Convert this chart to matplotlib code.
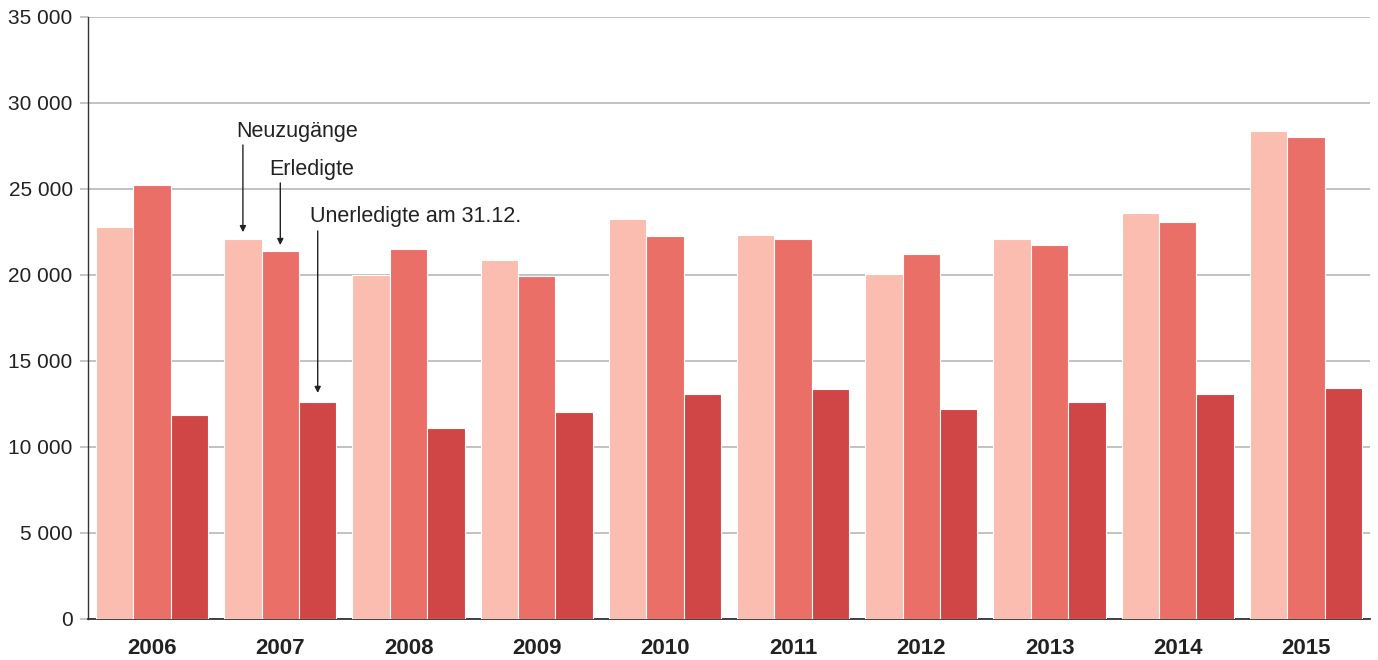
import numpy as np
import matplotlib
matplotlib.use("Agg")
import matplotlib.pyplot as plt
from matplotlib.ticker import FuncFormatter

plt.rcParams["font.family"] = ["Liberation Sans", "DejaVu Sans"]

years = ["2006", "2007", "2008", "2009", "2010", "2011", "2012", "2013", "2014", "2015"]
neuzugaenge = [22800, 22090, 19980, 20870, 23260, 22330, 20040, 22090, 23590, 28390]
erledigte = [25230, 21380, 21490, 19960, 22250, 22070, 21220, 21720, 23080, 28040]
unerledigte = [11860, 12620, 11100, 12020, 13060, 13390, 12210, 12600, 13080, 13430]

LIGHT = "#FABDAF"
MID = "#E96F67"
DARK = "#D04545"
TXT = "#222222"
GRID = "#BDBDBD"
FS = 15.5

fig = plt.figure(figsize=(13.78, 6.6), dpi=100)
ax = fig.add_axes([88 / 1378, 41 / 660, 1282 / 1378, 602 / 660])

x = np.arange(len(years))
w = 0.2917
ax.bar(x - w, neuzugaenge, w, color=LIGHT, edgecolor="white", linewidth=0.8, zorder=3)
ax.bar(x, erledigte, w, color=MID, edgecolor="white", linewidth=0.8, zorder=3)
ax.bar(x + w, unerledigte, w, color=DARK, edgecolor="white", linewidth=0.8, zorder=3)

ax.set_xlim(-0.5, len(years) - 0.5)
ax.set_ylim(0, 35000)
ax.set_yticks(np.arange(0, 35001, 5000))
ax.yaxis.set_major_formatter(FuncFormatter(lambda v, p: f"{int(v):,}".replace(",", " ")))
ax.set_xticks(x)
ax.set_xticklabels(years, fontweight="bold")

ax.grid(axis="y", color=GRID, linewidth=1.3, zorder=0)
ax.set_axisbelow(True)
for s in ["top", "right"]:
    ax.spines[s].set_visible(False)
ax.spines["left"].set_color("#333333")
ax.spines["bottom"].set_color("#333333")
ax.spines["left"].set_linewidth(1.0)
ax.spines["bottom"].set_linewidth(1.3)

ax.tick_params(axis="y", length=6, width=1.2, color=GRID, pad=5, labelsize=15, labelcolor=TXT)
ax.tick_params(axis="x", length=0, pad=14, labelsize=16, labelcolor=TXT)

# Beschriftung mit Pfeilen an den Balken von 2007
i = 1
arrow = dict(arrowstyle="-|>", color=TXT, lw=1.0, mutation_scale=9, shrinkA=0, shrinkB=0)
ax.annotate("", xy=(i - w, neuzugaenge[i] + 400), xytext=(i - w, 27560), arrowprops=arrow)
ax.text(i - w - 0.055, 28370, "Neuzugänge", fontsize=FS, color=TXT, ha="left", va="center")
ax.annotate("", xy=(i, erledigte[i] + 360), xytext=(i, 25350), arrowprops=arrow)
ax.text(i - 0.088, 26160, "Erledigte", fontsize=FS, color=TXT, ha="left", va="center")
ax.annotate("", xy=(i + w, unerledigte[i] + 520), xytext=(i + w, 22560), arrowprops=arrow)
ax.text(i + w - 0.058, 23430, "Unerledigte am 31.12.", fontsize=FS, color=TXT, ha="left", va="center")

fig.savefig("out.png", dpi=100)
